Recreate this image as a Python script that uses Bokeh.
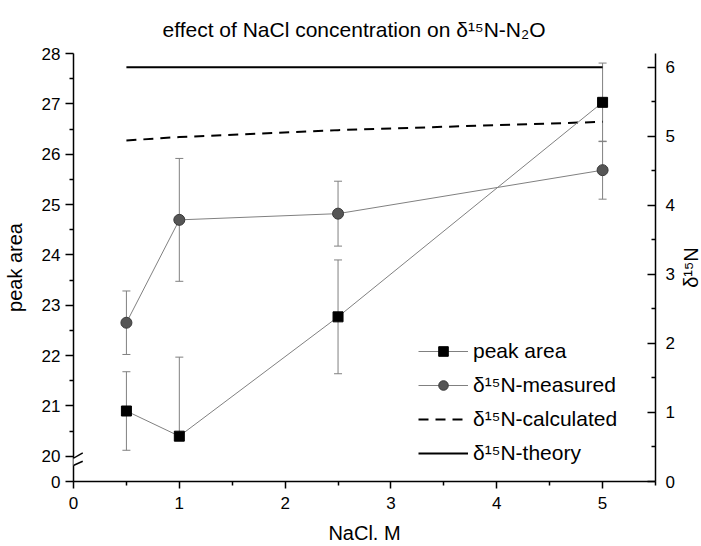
import math
from bokeh.plotting import figure
from bokeh.layouts import row
from bokeh.models import (Range1d, LinearAxis, FixedTicker, PrintfTickFormatter, Legend,
                          LegendItem, PolyAnnotation, Arrow)
from bokeh.embed import file_html
from bokeh.resources import INLINE

# ---- data ----
nacl = [0.5, 1.0, 2.5, 5.0]
peak_area = [20.90, 20.40, 22.77, 27.03]
peak_err_up = [0.78, 1.57, 1.13, 0.78]
peak_err_dn = [0.78, 0.0, 1.13, 0.78]
d15n_measured = [2.30, 3.79, 3.88, 4.51]
d15n_err = [0.46, 0.89, 0.47, 0.42]
d15n_calculated = [4.94, 4.99, 5.09, 5.21]
d15n_theory = [6.0, 6.0, 6.0, 6.0]

x_ticks = [0, 1, 2, 3, 4, 5]
x_minor = [0.5, 1.5, 2.5, 3.5, 4.5, 5.5]
left_ticks = [19.5, 20, 21, 22, 23, 24, 25, 26, 27, 28]
left_labels = ["0", "20", "21", "22", "23", "24", "25", "26", "27", "28"]
left_minor = [20.5, 21.5, 22.5, 23.5, 24.5, 25.5, 26.5, 27.5]
right_ticks = [0, 1, 2, 3, 4, 5, 6]
right_minor = [0.5, 1.5, 2.5, 3.5, 4.5, 5.5]

FONT = "Liberation Sans"
GRAY = "#808080"

p = figure(width=677, height=546, x_range=Range1d(0, 5.5), y_range=Range1d(19.5, 28),
           output_backend="svg", toolbar_location=None,
           min_border_left=73, min_border_right=20, min_border_top=53, min_border_bottom=64)
p.extra_y_ranges = {"right": Range1d(0, 6.2)}
p.outline_line_color = None
p.xgrid.visible = False
p.ygrid.visible = False

p.title.text = "effect of NaCl concentration on δ¹⁵N-N₂O"
p.title.text_font = FONT
p.title.text_font_size = "21px"
p.title.text_font_style = "normal"
p.title.text_color = "black"
p.title.align = "left"
p.title.offset = 89
p.title.standoff = 26

# bottom axis
xa = p.xaxis[0]
xa.ticker = FixedTicker(ticks=x_ticks, minor_ticks=x_minor)
xa.axis_label = "NaCl. M"
# left axis
ya = p.yaxis[0]
ya.ticker = FixedTicker(ticks=left_ticks, minor_ticks=left_minor)
ya.formatter = PrintfTickFormatter(format="%d")
ya.major_label_overrides = {t: l for t, l in zip(left_ticks, left_labels)}
ya.axis_label = "peak area"
# right axis
ra = LinearAxis(y_range_name="right")
ra.ticker = FixedTicker(ticks=right_ticks, minor_ticks=right_minor)
p.add_layout(ra, "right")

for ax in (xa, ya, ra):
    ax.axis_line_width = 1.5
    ax.major_tick_line_width = 1.5
    ax.minor_tick_line_width = 1.5
    ax.major_label_text_font = FONT
    ax.major_label_text_font_size = "17px"
    ax.major_label_text_color = "black"
    ax.axis_label_text_font = FONT
    ax.axis_label_text_font_size = "20px"
    ax.axis_label_text_font_style = "normal"
    ax.axis_label_text_color = "black"

xa.major_tick_in = 0; xa.major_tick_out = 7
xa.minor_tick_in = 0; xa.minor_tick_out = 4
xa.major_label_standoff = 8
xa.axis_label_standoff = 10
ya.major_tick_in = 0; ya.major_tick_out = 8
ya.minor_tick_in = 0; ya.minor_tick_out = 4
ya.major_label_standoff = 5
ya.axis_label_standoff = 13
ra.major_tick_in = 8; ra.major_tick_out = 0
ra.minor_tick_in = 4; ra.minor_tick_out = 0
ra.major_label_standoff = 10

# error bars
pk_lo = [v - e for v, e in zip(peak_area, peak_err_dn)]
pk_hi = [v + e for v, e in zip(peak_area, peak_err_up)]
p.segment(x0=nacl, y0=pk_lo, x1=nacl, y1=pk_hi, line_color=GRAY, line_width=1)
p.scatter(nacl, pk_hi, marker="dash", size=8, line_color=GRAY, line_width=1)
p.scatter([x for x, e in zip(nacl, peak_err_dn) if e > 0],
          [v for v, e in zip(pk_lo, peak_err_dn) if e > 0],
          marker="dash", size=8, line_color=GRAY, line_width=1)

m_lo = [v - e for v, e in zip(d15n_measured, d15n_err)]
m_hi = [v + e for v, e in zip(d15n_measured, d15n_err)]
p.segment(x0=nacl, y0=m_lo, x1=nacl, y1=m_hi, line_color=GRAY, line_width=1, y_range_name="right")
p.scatter(nacl, m_hi, marker="dash", size=8, line_color=GRAY, line_width=1, y_range_name="right")
p.scatter(nacl, m_lo, marker="dash", size=8, line_color=GRAY, line_width=1, y_range_name="right")

# series
r_theory = p.line(nacl, d15n_theory, line_color="black", line_width=2, y_range_name="right")
r_calc = p.line(nacl, d15n_calculated, line_color="black", line_width=2, line_dash="10 7",
                y_range_name="right")
r_mline = p.line(nacl, d15n_measured, line_color=GRAY, line_width=1, y_range_name="right")
r_pline = p.line(nacl, peak_area, line_color=GRAY, line_width=1)
r_mpts = p.scatter(nacl, d15n_measured, marker="circle", size=11, fill_color="#555555",
                   line_color="#3a3a3a", y_range_name="right")
r_ppts = p.scatter(nacl, peak_area, marker="square", size=10, fill_color="black", line_color="black")

legend = Legend(items=[
    LegendItem(label="peak area", renderers=[r_pline, r_ppts]),
    LegendItem(label="δ¹⁵N-measured", renderers=[r_mline, r_mpts]),
    LegendItem(label="δ¹⁵N-calculated", renderers=[r_calc]),
    LegendItem(label="δ¹⁵N-theory", renderers=[r_theory]),
], location=(345, 16))
legend.label_text_font = FONT
legend.label_text_font_size = "21px"
legend.label_text_color = "black"
legend.glyph_width = 50
legend.glyph_height = 24
legend.label_height = 24
legend.spacing = 10
legend.padding = 0
legend.margin = 0
legend.label_standoff = 5
legend.border_line_color = None
legend.background_fill_alpha = 0
p.add_layout(legend)

# axis break marks on left axis
p.add_layout(PolyAnnotation(xs=[-0.066, 0.0875, 0.0875, -0.066], ys=[19.882, 20.069, 19.902, 19.757],
                            fill_color="white", fill_alpha=1, line_color=None, level="overlay"))
p.add_layout(Arrow(end=None, x_start=-0.066, y_start=19.882, x_end=0.0875, y_end=20.069,
                   line_color="black", line_width=1.5, level="overlay"))
p.add_layout(Arrow(end=None, x_start=-0.066, y_start=19.757, x_end=0.0875, y_end=19.902,
                   line_color="black", line_width=1.5, level="overlay"))

# narrow companion figure carrying the right-hand axis title (reads bottom to top)
p2 = figure(width=24, height=546, x_range=Range1d(0, 1), y_range=Range1d(0, 1),
            output_backend="svg", toolbar_location=None,
            min_border_left=0, min_border_right=0, min_border_top=46, min_border_bottom=64)
p2.outline_line_color = None
p2.xgrid.visible = False
p2.ygrid.visible = False
p2.xaxis.visible = False
ax2 = p2.yaxis[0]
ax2.ticker = FixedTicker(ticks=[], minor_ticks=[])
ax2.axis_line_color = None
ax2.major_tick_line_color = None
ax2.minor_tick_line_color = None
ax2.major_tick_out = 0; ax2.major_tick_in = 0
ax2.minor_tick_out = 0; ax2.minor_tick_in = 0
ax2.major_label_standoff = 0
ax2.axis_label_standoff = 0
ax2.axis_label = "δ¹⁵N"
ax2.axis_label_text_font = FONT
ax2.axis_label_text_font_size = "20px"
ax2.axis_label_text_font_style = "normal"
ax2.axis_label_text_color = "black"

layout = row(p, p2, spacing=0)
open("out.html", "w").write(file_html(layout, INLINE))
